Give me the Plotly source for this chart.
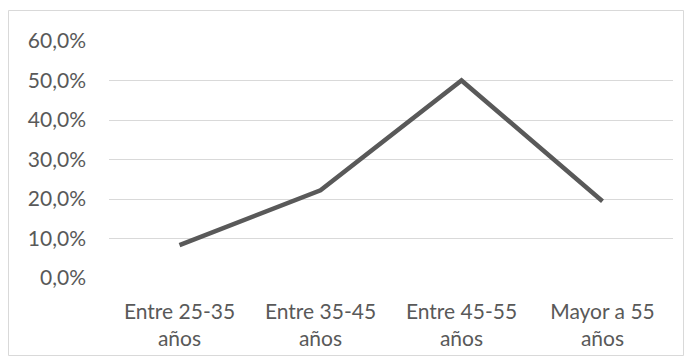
import plotly.graph_objects as go

# Age groups and the share of respondents in each
categories = ["Entre 25-35<br>años", "Entre 35-45<br>años", "Entre 45-55<br>años", "Mayor a 55<br>años"]
shares = [0.0833, 0.2222, 0.5000, 0.1944]
y_ticks = [0, 0.1, 0.2, 0.3, 0.4, 0.5, 0.6]

W, H = 691, 363
L, R, T, B = 109, 18, 41, 85
text_color = "#595959"
font = dict(family="Lato, 'Open Sans', sans-serif", size=21, color=text_color)

fig = go.Figure()
fig.add_trace(go.Scatter(
    x=categories, y=shares, mode="lines",
    line=dict(color="#595959", width=4.5),
    hoverinfo="skip", showlegend=False,
))

pw, ph = W - L - R, H - T - B
fig.add_shape(
    type="rect", xref="paper", yref="paper",
    x0=(8.5 - L) / pw, x1=(683.5 - L) / pw,
    y0=(H - 355.5 - B) / ph, y1=(H - 10.5 - B) / ph,
    line=dict(color="#d9d9d9", width=1), fillcolor="rgba(0,0,0,0)", layer="below",
)

fig.update_layout(
    width=W, height=H,
    margin=dict(l=L, r=R, t=T, b=B),
    paper_bgcolor="white", plot_bgcolor="white",
    separators=",.",
    font=font,
    xaxis=dict(
        range=[-0.5, 3.5],
        showgrid=False, zeroline=False, showline=False, ticks="",
        tickfont=font, ticklabelstandoff=19, fixedrange=True,
    ),
    yaxis=dict(
        range=[0, 0.6], tickvals=y_ticks, tickformat=".1%",
        showgrid=True, gridcolor="#d9d9d9", gridwidth=1,
        zeroline=False, showline=False, ticks="",
        tickfont=font, ticklabelstandoff=22, fixedrange=True,
    ),
)

fig.write_html("out.html")
